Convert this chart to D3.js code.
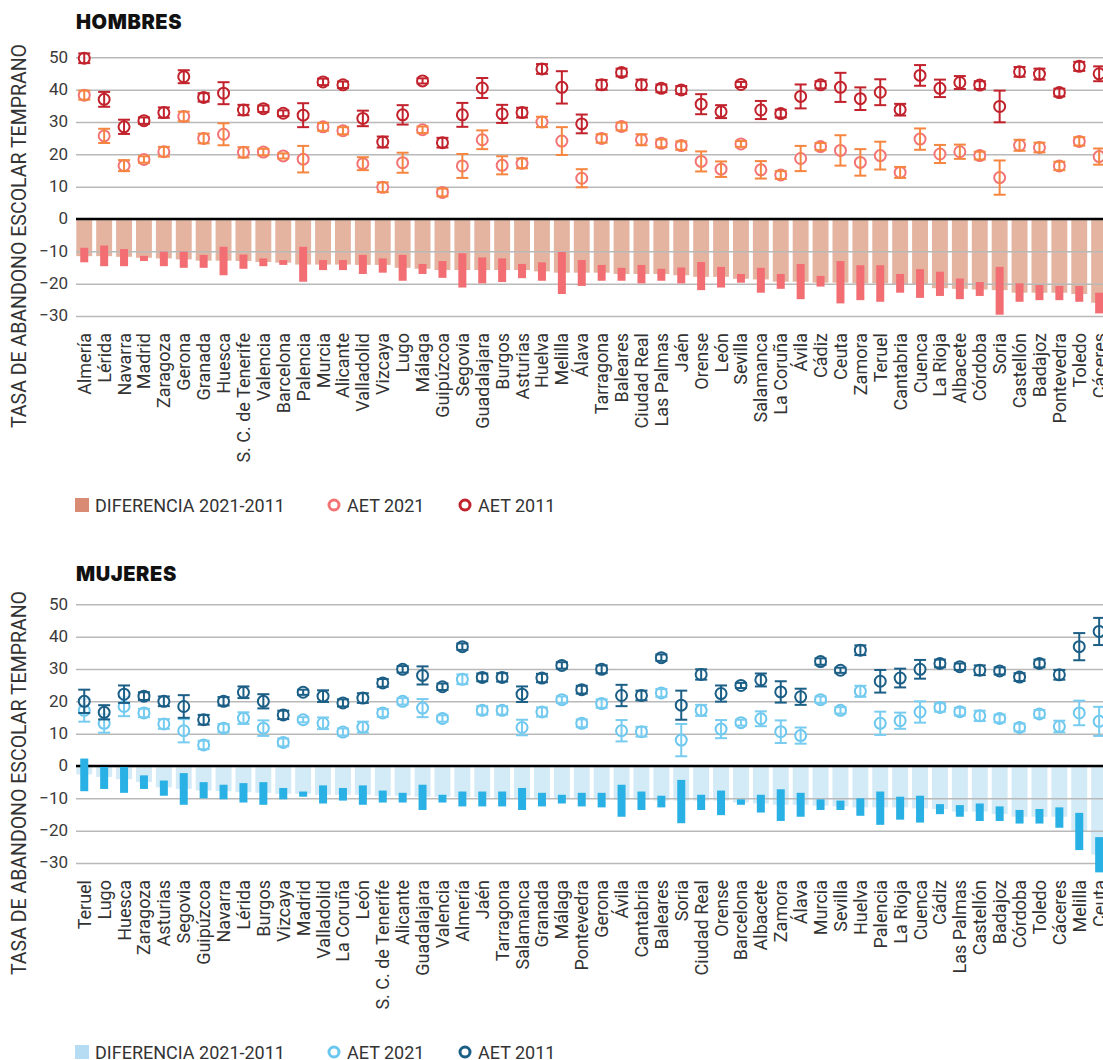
<!DOCTYPE html>
<html>
<head>
<meta charset="utf-8">
<script src="https://cdn.jsdelivr.net/npm/d3@7"></script>
<style>
    body { margin: 0; background: #fff; }
    svg text { font-family: Roboto, "Noto Sans", sans-serif; }
</style>
</head>
<body>
<svg id="chart" width="1103" height="1060"></svg>
<script>
"use strict";



//
// Data: hombres
//

var hombresNames = ["Almería", "Lérida", "Navarra", "Madrid", "Zaragoza", "Gerona", "Granada", "Huesca",
    "S. C. de Tenerife", "Valencia", "Barcelona", "Palencia", "Murcia", "Alicante", "Valladolid", "Vizcaya",
    "Lugo", "Málaga", "Guipúzcoa", "Segovia", "Guadalajara", "Burgos", "Asturias", "Huelva", "Melilla",
    "Álava", "Tarragona", "Baleares", "Ciudad Real", "Las Palmas", "Jaén", "Orense", "León", "Sevilla",
    "Salamanca", "La Coruña", "Ávila", "Cádiz", "Ceuta", "Zamora", "Teruel", "Cantabria", "Cuenca",
    "La Rioja", "Albacete", "Córdoba", "Soria", "Castellón", "Badajoz", "Pontevedra", "Toledo", "Cáceres"];

var hombres2021 = [38.3, 25.7, 16.5, 18.4, 20.8, 31.7, 24.9, 26.2, 20.6, 20.7, 19.5, 18.5, 28.5, 27.3, 17.1, 9.8,
    17.4, 27.6, 8.2, 16.4, 24.5, 16.6, 17.2, 30.0, 24.1, 12.6, 24.9, 28.6, 24.5, 23.4, 22.7, 17.8, 15.4, 23.2,
    15.2, 13.6, 18.7, 22.4, 21.2, 17.5, 19.6, 14.4, 24.7, 20.1, 20.8, 19.6, 12.8, 22.8, 22.1, 16.4, 24.0, 19.3];
var hombres2021Err = [1.4, 2.2, 1.7, 1.0, 1.5, 1.5, 1.5, 3.4, 1.6, 1.0, 0.8, 4.1, 1.2, 1.1, 2.0, 1.5,
    3.1, 1.0, 1.2, 3.7, 2.9, 2.8, 1.5, 1.6, 4.3, 2.8, 1.3, 1.2, 1.7, 1.2, 1.3, 3.1, 2.4, 0.9,
    2.7, 1.2, 3.9, 1.1, 4.7, 4.1, 4.3, 1.7, 3.3, 2.8, 2.2, 1.2, 5.3, 1.7, 1.5, 1.3, 1.3, 2.5];

var hombres2011 = [49.7, 37.0, 28.5, 30.4, 32.9, 44.0, 37.6, 38.9, 33.7, 34.1, 32.7, 32.1, 42.4, 41.5, 31.1, 23.8,
    32.2, 42.7, 23.6, 32.2, 40.5, 32.5, 32.9, 46.4, 40.7, 29.4, 41.5, 45.3, 41.5, 40.4, 39.9, 35.5, 33.2, 41.6,
    33.7, 32.6, 37.9, 41.5, 40.7, 37.2, 39.2, 33.8, 44.4, 40.4, 42.2, 41.4, 34.8, 45.5, 44.8, 39.1, 47.2, 44.9];
var hombres2011Err = [1.5, 2.3, 2.2, 1.0, 1.6, 2.0, 1.3, 3.4, 1.6, 1.0, 0.9, 3.7, 1.0, 1.0, 2.4, 1.7,
    3.0, 0.8, 1.5, 3.7, 3.1, 2.8, 1.5, 1.5, 5.0, 2.9, 1.5, 1.2, 1.6, 1.2, 1.2, 3.1, 2.0, 0.8,
    2.8, 1.2, 3.7, 1.1, 4.5, 3.5, 4.0, 1.8, 3.2, 2.7, 2.0, 1.2, 4.9, 1.5, 1.7, 1.2, 1.4, 2.3];

var hombresDif = [-11.5, -11.5, -11.7, -12.0, -12.2, -12.5, -12.9, -12.9, -13.0, -13.3, -13.5, -14.1, -14.1, -14.1,
    -14.2, -14.2, -15.1, -15.4, -15.8, -15.8, -15.8, -15.8, -15.8, -16.2, -16.6, -16.6, -16.6, -17.0, -17.0, -17.0,
    -17.4, -17.9, -17.9, -18.5, -18.7, -19.4, -19.4, -19.7, -19.7, -19.9, -19.9, -20.1, -20.1, -21.4, -21.6, -21.8,
    -22.0, -22.8, -22.8, -22.8, -23.2, -25.9];
var hombresDifHigh = [-8.9, -8.2, -9.3, -11.4, -10.1, -10.1, -11.1, -8.6, -11.0, -12.2, -12.7, -8.6, -12.7, -12.7,
    -11.1, -12.2, -11.1, -13.9, -13.0, -10.6, -11.9, -12.2, -13.9, -13.4, -10.2, -12.7, -14.2, -15.1, -14.2, -15.4,
    -15.0, -13.3, -14.8, -17.0, -15.1, -17.0, -13.9, -17.6, -13.0, -14.3, -14.3, -17.0, -15.5, -16.3, -18.4, -19.5,
    -14.8, -19.9, -20.4, -20.7, -20.7, -22.8];
var hombresDifLow = [-13.4, -14.6, -14.6, -13.0, -14.6, -15.1, -15.1, -17.4, -15.4, -14.6, -14.2, -19.4, -15.8, -15.8,
    -17.0, -16.6, -19.1, -17.0, -18.2, -21.2, -19.9, -19.5, -18.3, -19.1, -23.2, -20.7, -19.1, -19.1, -19.9, -19.1,
    -19.9, -22.0, -21.2, -19.7, -22.8, -21.6, -24.8, -20.9, -26.1, -25.1, -25.6, -22.8, -24.4, -23.8, -24.8, -23.8,
    -29.6, -25.6, -25.1, -25.1, -25.6, -29.2];



//
// Data: mujeres
//

var mujeresNames = ["Teruel", "Lugo", "Huesca", "Zaragoza", "Asturias", "Segovia", "Guipúzcoa", "Navarra",
    "Lérida", "Burgos", "Vizcaya", "Madrid", "Valladolid", "La Coruña", "León", "S. C. de Tenerife", "Alicante",
    "Guadalajara", "Valencia", "Almería", "Jaén", "Tarragona", "Salamanca", "Granada", "Málaga", "Pontevedra",
    "Gerona", "Ávila", "Cantabria", "Baleares", "Soria", "Ciudad Real", "Orense", "Barcelona", "Albacete",
    "Zamora", "Álava", "Murcia", "Sevilla", "Huelva", "Palencia", "La Rioja", "Cuenca", "Cádiz", "Las Palmas",
    "Castellón", "Badajoz", "Córdoba", "Toledo", "Cáceres", "Melilla", "Ceuta"];

var mujeres2021 = [17.2, 13.2, 18.4, 16.4, 13.0, 10.9, 6.5, 11.7, 14.8, 11.7, 7.3, 14.3, 13.2, 10.5, 12.0, 16.4,
    20.0, 17.9, 14.7, 26.8, 17.2, 17.2, 11.9, 16.7, 20.5, 13.2, 19.3, 10.9, 10.6, 22.6, 8.0, 17.2, 11.4, 13.4,
    14.6, 10.6, 9.4, 20.5, 17.2, 23.1, 13.2, 14.0, 16.7, 18.1, 16.8, 15.5, 14.7, 11.9, 16.1, 12.2, 16.4, 13.8];
var mujeres2021Err = [3.5, 2.9, 3.0, 1.3, 1.5, 3.6, 1.3, 1.3, 1.8, 2.4, 1.2, 0.8, 1.8, 1.1, 1.7, 1.2,
    1.0, 2.8, 1.0, 1.5, 1.3, 1.3, 2.4, 1.4, 1.0, 1.2, 1.3, 3.3, 1.5, 1.2, 5.0, 1.7, 2.8, 0.9,
    2.3, 3.5, 2.5, 1.0, 1.0, 1.7, 3.6, 2.5, 3.3, 1.3, 1.2, 1.6, 1.2, 1.2, 1.2, 1.8, 3.8, 4.5];

var mujeres2011 = [20.0, 16.6, 22.2, 21.6, 20.0, 18.4, 14.3, 20.0, 22.8, 20.0, 15.8, 22.8, 21.6, 19.5, 21.0, 25.7,
    29.9, 28.0, 24.5, 36.9, 27.4, 27.4, 22.2, 27.2, 31.1, 23.6, 29.9, 21.8, 21.8, 33.5, 18.8, 28.3, 22.4, 24.9,
    26.6, 22.9, 21.4, 32.3, 29.6, 35.8, 26.2, 27.2, 29.9, 31.7, 30.7, 29.6, 29.4, 27.5, 31.7, 28.2, 36.9, 41.6];
var mujeres2011Err = [3.6, 2.2, 2.7, 1.2, 1.5, 3.5, 1.5, 1.3, 1.8, 2.2, 1.3, 0.8, 1.8, 1.1, 1.5, 1.2,
    1.0, 2.8, 1.0, 1.0, 1.2, 1.3, 2.4, 1.3, 1.0, 1.2, 1.2, 3.3, 1.5, 1.0, 4.5, 1.6, 2.5, 0.8,
    2.0, 3.3, 2.5, 1.0, 0.8, 1.5, 3.5, 2.9, 2.9, 1.2, 1.0, 1.5, 1.1, 1.2, 1.2, 1.5, 4.2, 4.2];

var mujeresDif = [-2.6, -3.4, -4.1, -5.0, -6.6, -7.1, -7.6, -7.8, -8.1, -8.3, -8.6, -8.6, -8.9, -8.9, -8.9, -9.2,
    -9.2, -9.5, -9.5, -9.7, -9.7, -9.9, -9.9, -9.9, -10.1, -10.1, -10.3, -10.5, -10.5, -10.7, -10.7, -10.7, -10.7,
    -11.3, -11.6, -12.0, -12.0, -12.3, -12.5, -12.8, -12.8, -12.8, -13.1, -13.3, -14.1, -14.1, -14.9, -15.7, -15.7,
    -15.7, -20.4, -27.4];
var mujeresDifHigh = [2.3, -0.3, -0.3, -2.9, -4.5, -2.2, -5.0, -5.8, -5.3, -5.0, -6.8, -7.9, -6.0, -6.8, -6.0, -7.6,
    -8.3, -5.8, -8.9, -7.9, -7.9, -7.9, -6.8, -8.3, -8.9, -8.3, -8.3, -5.8, -7.9, -9.2, -4.3, -8.9, -7.6, -10.3,
    -8.9, -7.2, -8.3, -10.3, -10.7, -10.0, -7.9, -9.5, -9.2, -11.8, -12.1, -11.6, -12.5, -13.6, -13.3, -12.8,
    -14.5, -22.0];
var mujeresDifLow = [-7.8, -7.1, -8.3, -7.1, -9.2, -12.0, -10.0, -10.3, -11.3, -12.0, -10.3, -9.5, -11.6, -10.7,
    -12.0, -11.3, -11.3, -13.6, -11.3, -12.5, -12.5, -12.5, -13.6, -12.5, -11.6, -12.5, -12.8, -15.7, -13.6, -12.8,
    -17.7, -13.6, -15.2, -12.0, -14.4, -17.0, -15.7, -13.6, -13.6, -15.4, -18.2, -16.6, -17.5, -14.9, -15.7, -17.0,
    -17.0, -17.8, -17.8, -19.1, -26.0, -32.9];

var yTicks = [-30, -20, -10, 0, 10, 20, 30, 40, 50];
var legendLabels = ["DIFERENCIA 2021-2011", "AET 2021", "AET 2011"];



//
// Panel builder
//

function buildPanel (svg, panel) {

    var g = svg.append("g").attr("transform", "translate(0," + panel.offset + ")");

    var rows = panel.names.map(function (name, i) {
        return {
            name: name,
            v21: panel.v2021[i], e21: panel.e2021[i],
            v11: panel.v2011[i], e11: panel.e2011[i],
            dif: panel.dif[i], hi: panel.difHigh[i], lo: panel.difLow[i]
        };
    });

    var x = d3.scaleBand()
        .domain(panel.names)
        .range([74.3, 74.3 + 52 * 19.9])
        .paddingInner(0.2)
        .paddingOuter(0.1);

    var y = d3.scaleLinear().domain([-30, 50]).range([316, 57.3]);

    var cx = function (d) { return x(d.name) + x.bandwidth() / 2; };

    // Title
    g.append("text")
        .attr("x", 76)
        .attr("y", panel.titleY)
        .style("font-family", "Inter, Roboto, sans-serif")
        .style("font-weight", 900)
        .style("font-size", "20px")
        .style("letter-spacing", "0.6px")
        .style("fill", "#111")
        .text(panel.title);

    // Difference bars (light)
    g.append("g").selectAll("rect")
        .data(rows)
        .join("rect")
        .attr("x", function (d) { return x(d.name); })
        .attr("width", x.bandwidth())
        .attr("y", y(0))
        .attr("height", function (d) { return y(d.dif) - y(0); })
        .style("fill", panel.colors.difLight);

    // Grid + ticks
    var axis = g.append("g")
        .attr("transform", "translate(76,0)")
        .call(d3.axisLeft(y).tickValues(yTicks).tickSize(-(1103 - 76)).tickPadding(8));

    axis.select(".domain").remove();
    axis.selectAll(".tick line")
        .style("stroke", "#b9b9b9")
        .style("stroke-width", 1.5);
    axis.selectAll(".tick text")
        .attr("dy", "0.28em")
        .style("font-size", "17px")
        .style("fill", "#3a3a3a");

    // Zero line
    g.append("line")
        .attr("x1", 76)
        .attr("x2", 1103)
        .attr("y1", y(0))
        .attr("y2", y(0))
        .style("stroke", "#000")
        .style("stroke-width", 2.5);

    // Difference range bars (dark)
    g.append("g").selectAll("rect")
        .data(rows)
        .join("rect")
        .attr("x", function (d) { return cx(d) - 4; })
        .attr("width", 8)
        .attr("y", function (d) { return y(d.hi); })
        .attr("height", function (d) { return y(d.lo) - y(d.hi); })
        .style("fill", panel.colors.difDark);

    // Points with error bars
    drawPoints(g, rows, cx, y, "v21", "e21", panel.colors.p2021, panel.colors.e2021);
    drawPoints(g, rows, cx, y, "v11", "e11", panel.colors.p2011, panel.colors.e2011);

    // Category labels
    g.append("g").selectAll("text")
        .data(rows)
        .join("text")
        .attr("transform", function (d) { return "translate(" + cx(d) + ",333) rotate(-90)"; })
        .attr("dy", "0.36em")
        .attr("text-anchor", "end")
        .style("font-size", "18px")
        .style("fill", "#333")
        .text(function (d) { return d.name; });

    // Y axis title
    g.append("text")
        .attr("transform", "translate(26,236) rotate(-90)")
        .attr("text-anchor", "middle")
        .style("font-size", "19.5px")
        .style("fill", "#333")
        .text("TASA DE ABANDONO ESCOLAR TEMPRANO");

    // Legend
    var legend = g.append("g").attr("transform", "translate(0,505)");

    legend.append("rect")
        .attr("x", 75).attr("y", -7)
        .attr("width", 14).attr("height", 14)
        .style("fill", panel.colors.legendSquare);

    legend.append("circle")
        .attr("cx", 334).attr("cy", 0).attr("r", 5)
        .style("fill", "none")
        .style("stroke", panel.colors.p2021)
        .style("stroke-width", 3);

    legend.append("circle")
        .attr("cx", 465).attr("cy", 0).attr("r", 5)
        .style("fill", "none")
        .style("stroke", panel.colors.p2011)
        .style("stroke-width", 3);

    legend.selectAll("text")
        .data(legendLabels)
        .join("text")
        .attr("x", function (d, i) { return [95, 347, 478][i]; })
        .attr("y", 7)
        .style("font-size", "18px")
        .style("fill", "#333")
        .text(function (d) { return d; });
}

function drawPoints (g, rows, cx, y, key, errKey, color, errColor) {

    var pts = g.append("g");

    pts.selectAll("circle")
        .data(rows)
        .join("circle")
        .attr("cx", cx)
        .attr("cy", function (d) { return y(d[key]); })
        .attr("r", 5.5)
        .style("fill", "#fff")
        .style("fill-opacity", 0.7)
        .style("stroke", color)
        .style("stroke-width", 2);

    var bars = pts.selectAll("g.err")
        .data(rows)
        .join("g")
        .attr("class", "err")
        .style("stroke", errColor)
        .style("stroke-width", 2);

    bars.append("line")
        .attr("x1", cx).attr("x2", cx)
        .attr("y1", function (d) { return y(d[key] + d[errKey]); })
        .attr("y2", function (d) { return y(d[key] - d[errKey]); });

    bars.append("line")
        .attr("x1", function (d) { return cx(d) - 6; })
        .attr("x2", function (d) { return cx(d) + 6; })
        .attr("y1", function (d) { return y(d[key] + d[errKey]); })
        .attr("y2", function (d) { return y(d[key] + d[errKey]); });

    bars.append("line")
        .attr("x1", function (d) { return cx(d) - 6; })
        .attr("x2", function (d) { return cx(d) + 6; })
        .attr("y1", function (d) { return y(d[key] - d[errKey]); })
        .attr("y2", function (d) { return y(d[key] - d[errKey]); });
}



//
// Build
//

var svg = d3.select("#chart");

buildPanel(svg, {
    title: "HOMBRES",
    offset: 0,
    titleY: 29,
    names: hombresNames,
    v2021: hombres2021, e2021: hombres2021Err,
    v2011: hombres2011, e2011: hombres2011Err,
    dif: hombresDif, difHigh: hombresDifHigh, difLow: hombresDifLow,
    colors: {
        difLight: "#e5b4a1", difDark: "#f26e73", legendSquare: "#d98b73",
        p2021: "#f37474", e2021: "#f5853f", p2011: "#c1222c", e2011: "#c1222c"
    }
});

buildPanel(svg, {
    title: "MUJERES",
    offset: 547,
    titleY: 34,
    names: mujeresNames,
    v2021: mujeres2021, e2021: mujeres2021Err,
    v2011: mujeres2011, e2011: mujeres2011Err,
    dif: mujeresDif, difHigh: mujeresDifHigh, difLow: mujeresDifLow,
    colors: {
        difLight: "#d3eaf7", difDark: "#29b1e5", legendSquare: "#b5dcf2",
        p2021: "#6cc7ee", e2021: "#78ccf0", p2011: "#1b5e86", e2011: "#1b5e86"
    }
});

</script>
</body>
</html>
